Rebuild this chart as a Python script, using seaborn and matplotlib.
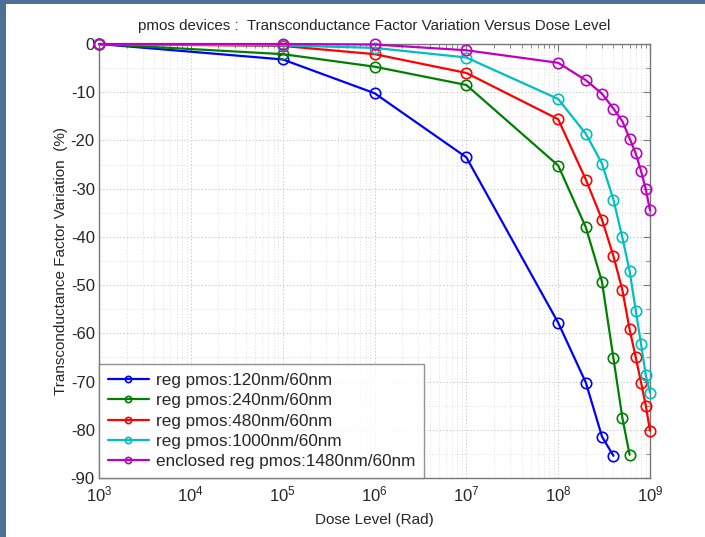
import numpy as np
import pandas as pd
import matplotlib
matplotlib.use("Agg")
import matplotlib.pyplot as plt
import matplotlib.ticker as mticker
import seaborn as sns

# Dose levels (Rad) and transconductance factor variation (%) per device
dose_120 = [1e3, 1e5, 1e6, 1e7, 1e8, 2e8, 3e8, 4e8]
gm_120 = [0, -3.2, -10.2, -23.5, -57.8, -70.2, -81.4, -85.4]

dose_240 = [1e3, 1e5, 1e6, 1e7, 1e8, 2e8, 3e8, 4e8, 5e8, 6e8]
gm_240 = [0, -2.1, -4.7, -8.5, -25.2, -38.0, -49.3, -65.2, -77.5, -85.2]

dose_480 = [1e3, 1e5, 1e6, 1e7, 1e8, 2e8, 3e8, 4e8, 5e8, 6e8, 7e8, 8e8, 9e8, 1e9]
gm_480 = [0, -0.4, -2.1, -6.0, -15.6, -28.1, -36.4, -44.0, -51.0, -59.2, -65.0, -70.2, -75.0, -80.2]

dose_1000 = [1e3, 1e5, 1e6, 1e7, 1e8, 2e8, 3e8, 4e8, 5e8, 6e8, 7e8, 8e8, 9e8, 1e9]
gm_1000 = [0, -0.3, -0.8, -2.8, -11.4, -18.6, -24.8, -32.3, -40.1, -47.1, -55.3, -62.3, -68.7, -72.3]

dose_1480 = [1e3, 1e5, 1e6, 1e7, 1e8, 2e8, 3e8, 4e8, 5e8, 6e8, 7e8, 8e8, 9e8, 1e9]
gm_1480 = [0, 0, -0.1, -1.3, -3.9, -7.5, -10.3, -13.4, -16.0, -19.6, -22.7, -26.4, -30.1, -34.5]

labels = [
    "reg pmos:120nm/60nm",
    "reg pmos:240nm/60nm",
    "reg pmos:480nm/60nm",
    "reg pmos:1000nm/60nm",
    "enclosed reg pmos:1480nm/60nm",
]
colors = ["#0000ff", "#008000", "#ff0000", "#00bfbf", "#bf00bf"]

y_ticks = [0, -10, -20, -30, -40, -50, -60, -70, -80, -90]
x_ticks = [1e3, 1e4, 1e5, 1e6, 1e7, 1e8, 1e9]

sns.set_style("white")
plt.rcParams["font.family"] = ["Liberation Sans", "DejaVu Sans"]
plt.rcParams["mathtext.fontset"] = "custom"
plt.rcParams["mathtext.rm"] = "Liberation Sans"
plt.rcParams["mathtext.it"] = "Liberation Sans"
plt.rcParams["mathtext.bf"] = "Liberation Sans"
plt.rcParams["axes.unicode_minus"] = False

fig = plt.figure(figsize=(7.05, 5.37), dpi=100)
fig.patch.set_facecolor("#4f6f96")

# white page inside the blue frame
page = fig.add_axes([6 / 705, 0, 1 - 6 / 705, 1 - 4 / 537], zorder=-10)
page.set_facecolor("white")
page.set_xticks([])
page.set_yticks([])
for s in page.spines.values():
    s.set_visible(False)

ax = fig.add_axes([99 / 705, 1 - 478 / 537, (650 - 99) / 705, (478 - 44) / 537])
ax.set_facecolor("white")

series = [
    (dose_120, gm_120),
    (dose_240, gm_240),
    (dose_480, gm_480),
    (dose_1000, gm_1000),
    (dose_1480, gm_1480),
]
for (d, g), lab, c in zip(series, labels, colors):
    df = pd.DataFrame({"dose": d, "gm": g})
    sns.lineplot(data=df, x="dose", y="gm", ax=ax, color=c, lw=1.6,
                 marker="o", markersize=7.5, mfc="none", mec=c, mew=1.2,
                 label=lab, zorder=3, clip_on=False)

ax.set_xscale("log")
ax.set_xlim(1e3, 1e9)
ax.set_ylim(-90, 0)
ax.set_xticks(x_ticks)
ax.xaxis.set_major_formatter(mticker.LogFormatterMathtext())
ax.xaxis.set_minor_locator(mticker.LogLocator(base=10, subs=np.arange(2, 10), numticks=20))
ax.xaxis.set_minor_formatter(mticker.NullFormatter())
ax.set_yticks(y_ticks)
ax.set_yticklabels([str(v) for v in y_ticks])
ax.yaxis.set_minor_locator(mticker.MultipleLocator(5))

ax.grid(which="major", color="#cccccc", linestyle=(0, (1.5, 2)), linewidth=0.7)
ax.grid(which="minor", color="#e0e0e0", linestyle=(0, (1.5, 2)), linewidth=0.6)
ax.set_axisbelow(True)

for s in ax.spines.values():
    s.set_color("#777777")
    s.set_linewidth(1.0)
    s.set_zorder(2.5)
ax.tick_params(which="both", direction="in", top=True, right=True,
               color="#777777", labelsize=12)
ax.tick_params(axis="y", pad=3)
ax.tick_params(axis="x", pad=5)
ax.tick_params(which="major", length=5)
ax.tick_params(which="minor", length=3)

ax.set_title("pmos devices :  Transconductance Factor Variation Versus Dose Level",
             fontsize=10.9, pad=10)
ax.set_xlabel("Dose Level (Rad)", fontsize=11, labelpad=6)
ax.set_ylabel("Transconductance Factor Variation  (%)", fontsize=11, labelpad=2)

leg = ax.legend(loc="lower left", bbox_to_anchor=(0, 0), borderaxespad=0.0,
                fontsize=12.3, frameon=True, fancybox=False, markerscale=0.6,
                handlelength=2.4, handletextpad=0.45, labelspacing=0.32,
                borderpad=0.5)
leg.get_frame().set_edgecolor("#777777")
leg.get_frame().set_linewidth(1.0)
leg.set_zorder(5)

fig.savefig("out.png", dpi=100, facecolor=fig.get_facecolor())
